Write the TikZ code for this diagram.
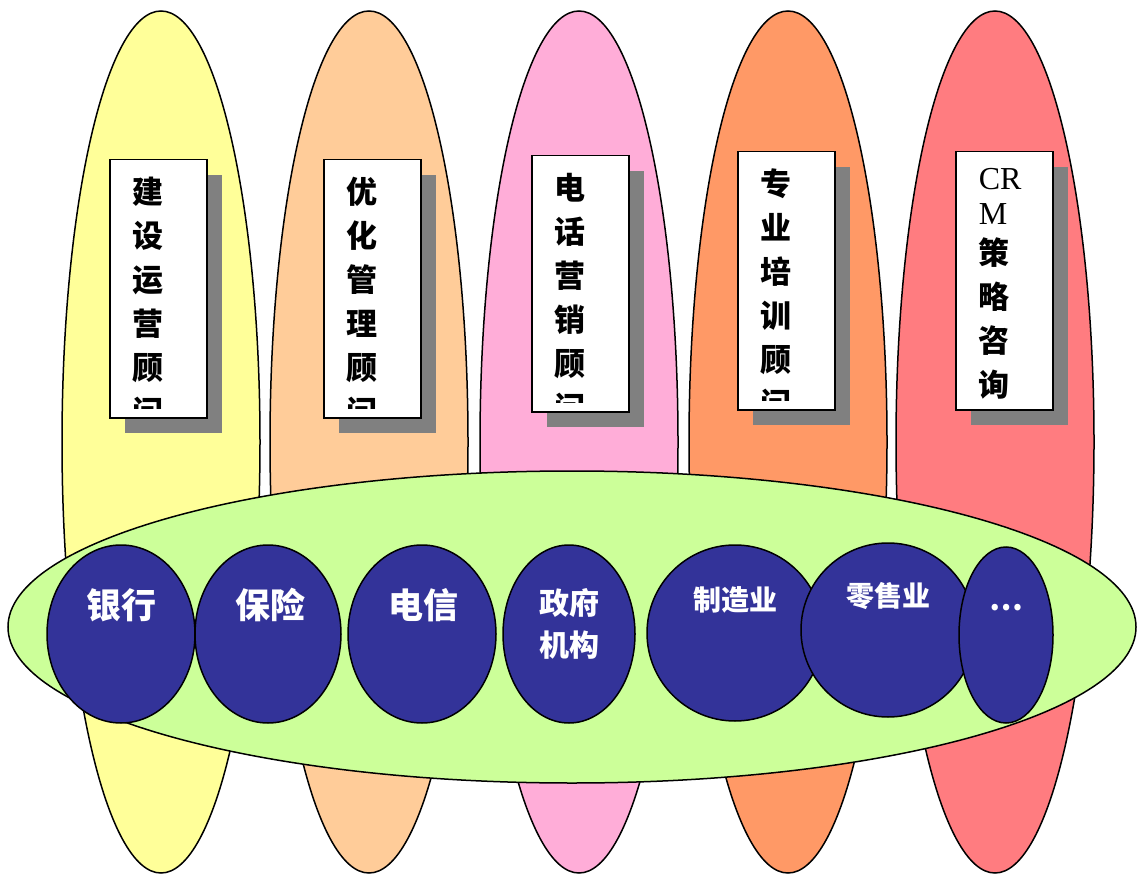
\documentclass[tikz,border=0pt]{standalone}
\usepackage{fontspec}
\setmainfont{Liberation Serif}
\newfontfamily\cjk{Noto Sans CJK SC}

\usetikzlibrary{shapes.geometric}

\definecolor{yelfill}{HTML}{FFFF99}
\definecolor{peachfill}{HTML}{FFCC99}
\definecolor{pinkfill}{HTML}{FFADD8}
\definecolor{orangefill}{HTML}{FF9966}
\definecolor{redfill}{HTML}{FF7C80}
\definecolor{greenfill}{HTML}{CCFF99}
\definecolor{tradeblue}{HTML}{333399}
\definecolor{shadowgray}{HTML}{808080}

\tikzset{
  tipbox/.style={draw, fill=white, line width=1.5pt, anchor=north west,
    minimum width=97pt, inner sep=0pt},
  tiptext/.style={anchor=north west, inner sep=0pt, align=left,
    font=\cjk\bfseries\fontsize{31}{44}\selectfont},
  trade/.style={ellipse, draw, fill=tradeblue, line width=1.5pt, inner sep=0pt},
  tradetext/.style={text=white, align=center, inner sep=0pt,
    font=\cjk\bfseries\fontsize{#1}{42}\selectfont}
}

\begin{document}
\begin{tikzpicture}[x=1pt, y=-1pt, line width=1.5pt]

\useasboundingbox (0,0) rectangle (1137,874);
\clip (0,0) rectangle (1137,874);

\foreach \x/\c in {161/yelfill,369/peachfill,579/pinkfill,788/orangefill,995/redfill}{
	\draw[fill=\c] (\x,442) ellipse[x radius=99, y radius=431];
}

\foreach \n/\x/\y/\h/\txt in {1/109/159/258/{建\\设\\运\\营\\顾\\问},
	2/323/159/258/{优\\化\\管\\理\\顾\\问},
	3/531/155/256/{电\\话\\营\\销\\顾\\问},
	4/737/151/258/{专\\业\\培\\训\\顾\\问},
	5/955/151/258/{{\rmfamily\mdseries\fontsize{32}{44}\selectfont CR}\\[-9pt]{\rmfamily\mdseries\fontsize{32}{44}\selectfont M}\\[-4pt]策\\略\\咨\\询}}{
	\fill[shadowgray] (\x+16,\y+16) rectangle ++(97,\h);
	\node[tipbox, minimum height=\h pt] (box\n) at (\x,\y) {};
	\begin{scope}
		\clip (\x,\y) rectangle ++(97,\h-9);
		\node[tiptext] (tip\n) at (\x+23,\y+17) {\txt};
	\end{scope}
}

\draw[fill=greenfill] (572,627) ellipse[x radius=564, y radius=156];

\node[trade, minimum width=148pt, minimum height=178pt] (bank) at (121,634) {};
\node[trade, minimum width=146pt, minimum height=178pt] (insure) at (268,634) {};
\node[trade, minimum width=148pt, minimum height=178pt] (telecom) at (422,634) {};
\node[trade, minimum width=132pt, minimum height=178pt] (gov) at (569,634) {};
\node[trade, minimum width=176pt, minimum height=176pt] (manu) at (735,633) {};
\node[trade, minimum width=174pt, minimum height=174pt] (retail) at (888,630) {};
\node[trade, minimum width=94pt, minimum height=176pt] (more) at (1006,635) {};

\node[tradetext=35] (bankt) at (121,605) {银行};
\node[tradetext=35] (insuret) at (270,605) {保险};
\node[tradetext=35] (telecomt) at (423,605) {电信};
\node[tradetext=30] (govt) at (569,624) {政府\\机构};
\node[tradetext=28] (manut) at (735,600) {制造业};
\node[tradetext=28] (retailt) at (888,596) {零售业};
\node[tradetext=30] (moret) at (1006,608) {…};

\end{tikzpicture}
\end{document}
